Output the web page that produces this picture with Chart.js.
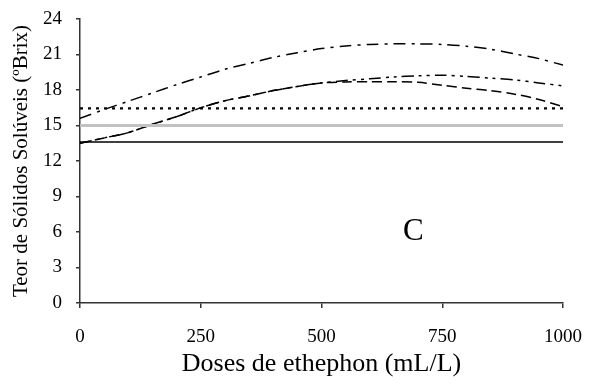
<!DOCTYPE html>
<html>
<head>
<meta charset="utf-8">
<script src="https://cdn.jsdelivr.net/npm/chart.js@4.4.1/dist/chart.umd.min.js"></script>
<style>
  html, body { margin: 0; padding: 0; background: #fff; }
  #wrap { width: 594px; height: 392px; }
</style>
</head>
<body>
<div id="wrap"><canvas id="chart" width="594" height="392"></canvas></div>
<script>
const doses = [0, 50, 100, 150, 200, 250, 300, 350, 400, 450, 500, 550, 600, 650, 700, 750, 800, 850, 900, 950, 1000];
const dashDotVals = [15.6, 16.35, 17.05, 17.75, 18.45, 19.1, 19.75, 20.25, 20.75, 21.15, 21.5, 21.72, 21.85, 21.9, 21.9, 21.85, 21.7, 21.45, 21.05, 20.65, 20.1];
const dashDotDotVals = [13.5, 13.95, 14.4, 15.1, 15.75, 16.5, 17.1, 17.5, 17.95, 18.3, 18.6, 18.8, 18.95, 19.1, 19.2, 19.25, 19.15, 19.0, 18.85, 18.6, 18.35];
const dashedVals = [13.5, 13.95, 14.4, 15.1, 15.75, 16.5, 17.1, 17.5, 17.95, 18.3, 18.6, 18.68, 18.7, 18.7, 18.65, 18.4, 18.15, 17.95, 17.65, 17.2, 16.6];
const flatDoses = [0, 1000];
const solidVals = [13.6, 13.6];
const grayVals = [15.0, 15.0];
const dottedVals = [16.45, 16.45];
const yTicks = [0, 3, 6, 9, 12, 15, 18, 21, 24];
const xTicks = [0, 250, 500, 750, 1000];
const panelLabel = 'C';

const serif = "'Liberation Serif', 'Times New Roman', serif";

function pts(xs, ys) {
  return xs.map((x, i) => ({ x: x, y: ys[i] }));
}

function line(data, color, width, dash, tension) {
  return {
    data: data,
    borderColor: color,
    borderWidth: width,
    borderDash: dash,
    pointRadius: 0,
    tension: tension,
    fill: false
  };
}

// drop the extra edge padding chart.js reserves for tick labels
function noEdgePadding(scale) {
  scale.paddingTop = 0;
  scale.paddingBottom = 0;
  scale.paddingLeft = 0;
  scale.paddingRight = 0;
}

// letter "C" inside the plot
const panelPlugin = {
  id: 'panel',
  afterDatasetsDraw(chart) {
    const ctx = chart.ctx;
    const x = chart.scales.x.getPixelForValue(690);
    const y = chart.scales.y.getPixelForValue(6);
    ctx.save();
    ctx.font = '31px ' + serif;
    ctx.fillStyle = '#000';
    ctx.textAlign = 'center';
    ctx.textBaseline = 'middle';
    ctx.fillText(panelLabel, x, y);
    ctx.restore();
  }
};

new Chart(document.getElementById('chart').getContext('2d'), {
  type: 'line',
  data: {
    datasets: [
      line(pts(flatDoses, solidVals), '#000', 1.5, [], 0),
      line(pts(flatDoses, grayVals), '#c2c2c2', 3, [], 0),
      line(pts(flatDoses, dottedVals), '#000', 2.2, [3, 5], 0),
      line(pts(doses, dashedVals), '#000', 1.5, [10, 5], 0.3),
      line(pts(doses, dashDotDotVals), '#000', 1.5, [12, 5, 3, 5, 3, 5], 0.3),
      line(pts(doses, dashDotVals), '#000', 1.5, [12, 6, 3, 6], 0.3)
    ]
  },
  options: {
    responsive: false,
    animation: false,
    layout: { padding: { left: 0, right: 31, top: 19, bottom: 0 } },
    plugins: { legend: { display: false }, tooltip: { enabled: false } },
    scales: {
      x: {
        type: 'linear',
        min: 0,
        max: 1000,
        afterFit(scale) { scale.height = 89; noEdgePadding(scale); },
        afterBuildTicks(scale) { scale.ticks = xTicks.map(v => ({ value: v })); },
        grid: { display: true, drawOnChartArea: false, drawTicks: true, tickLength: 5, color: '#333', lineWidth: 1.5 },
        border: { display: true, color: '#333', width: 1.5 },
        ticks: {
          color: '#000',
          font: { family: serif, size: 19 },
          padding: 18,
          maxRotation: 0,
          callback: v => String(v)
        },
        title: {
          display: true,
          text: 'Doses de ethephon (mL/L)',
          color: '#000',
          font: { family: serif, size: 26 },
          padding: { top: 0, bottom: 12 }
        }
      },
      y: {
        min: 0,
        max: 24,
        afterFit(scale) { scale.width = 80; noEdgePadding(scale); },
        afterBuildTicks(scale) { scale.ticks = yTicks.map(v => ({ value: v })); },
        grid: { display: true, drawOnChartArea: false, drawTicks: true, tickLength: 4, color: '#333', lineWidth: 1.5 },
        border: { display: true, color: '#333', width: 1.5 },
        ticks: { color: '#000', font: { family: serif, size: 19 }, padding: 14 },
        title: {
          display: true,
          text: 'Teor de Sólidos Solúveis (ºBrix)',
          color: '#000',
          font: { family: serif, size: 21 },
          padding: { top: 9, bottom: 0 }
        }
      }
    }
  },
  plugins: [panelPlugin]
});
</script>
</body>
</html>
